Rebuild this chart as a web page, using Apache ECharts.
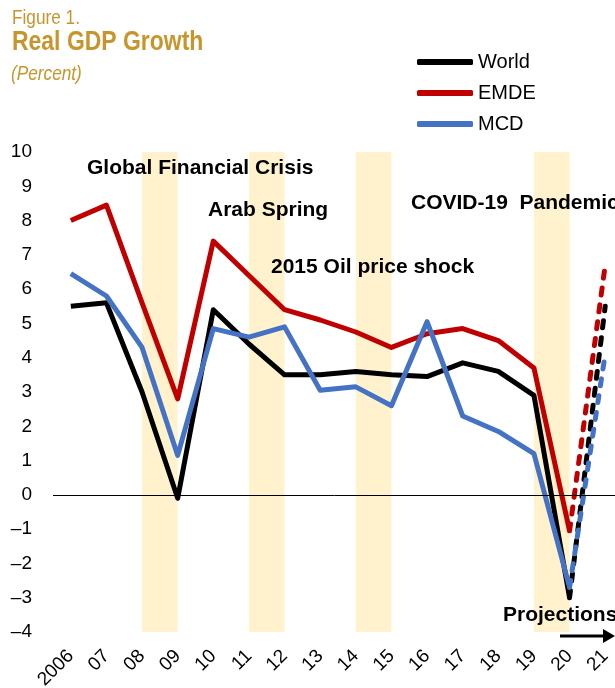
<!DOCTYPE html>
<html>
<head>
<meta charset="utf-8">
<script src="https://cdn.jsdelivr.net/npm/echarts@6/dist/echarts.min.js"></script>
<style>
    html, body { margin: 0; padding: 0; background: #fff; }
    #chart { width: 615px; height: 688px; }
</style>
</head>
<body>
<div id="chart"></div>
<script>
    // 年份 (x 轴)
    var years = ['2006', '07', '08', '09', '10', '11', '12', '13', '14', '15', '16', '17', '18', '19', '20', '21'];

    // 实际 GDP 增长 (百分比), 最后一年为预测
    var world = [5.5, 5.6, 3.0, -0.1, 5.4, 4.4, 3.5, 3.5, 3.6, 3.5, 3.45, 3.85, 3.6, 2.9, -3.0, 5.5];
    var emde = [8.0, 8.45, 5.6, 2.8, 7.4, 6.4, 5.4, 5.1, 4.75, 4.3, 4.7, 4.85, 4.5, 3.7, -1.05, 6.7];
    var mcd = [6.45, 5.8, 4.3, 1.15, 4.85, 4.6, 4.9, 3.05, 3.15, 2.6, 5.05, 2.3, 1.85, 1.2, -2.7, 4.1];

    // 阴影区 (危机年份)
    var bands = [['08', '09'], ['11', '12'], ['14', '15'], ['19', '20']];

    // y 轴刻度
    var yTicks = [-4, -3, -2, -1, 0, 1, 2, 3, 4, 5, 6, 7, 8, 9, 10];

    var projStart = years.indexOf('20');
    var gold = '#C8952C';
    var font = 'Arial, "Liberation Sans", sans-serif';

    //拆分实线 / 预测虚线
    function actual(arr) {
        return arr.map(function(v, i) {
            return i <= projStart ? v : null;
        });
    }

    function projected(arr) {
        return arr.map(function(v, i) {
            return i >= projStart ? v : null;
        });
    }

    function lineSeries(name, data, color, dashed) {
        return {
            name: name,
            type: 'line',
            data: data,
            symbol: 'none',
            z: 3,
            lineStyle: {
                color: color,
                width: 5,
                type: dashed ? [7, 10] : 'solid',
                cap: dashed ? 'round' : 'butt',
                join: 'round'
            },
            itemStyle: {
                color: color
            }
        };
    }

    function note(text, left, top) {
        return {
            type: 'text',
            left: left,
            top: top,
            z: 100,
            style: {
                text: text,
                fill: '#000',
                font: 'bold 21px ' + font
            }
        };
    }

    // 标题 (窄体字, 用 scaleX 模拟)
    function title(text, x, y, f) {
        return {
            type: 'text',
            x: x,
            y: y,
            scaleX: 0.82,
            z: 100,
            style: {
                text: text,
                fill: gold,
                font: f,
                verticalAlign: 'top'
            }
        };
    }

    var myEcharts = echarts.init(document.getElementById('chart'), null, {
        renderer: 'canvas'
    });

    var option = {
        animation: false,
        textStyle: {
            fontFamily: font
        },
        grid: {
            left: 53,
            top: 152,
            width: 570,
            height: 480,
            outerBoundsMode: 'none',
            containLabel: false
        },
        legend: {
            orient: 'vertical',
            left: 417,
            top: 52,
            padding: 0,
            itemWidth: 56,
            itemHeight: 6,
            itemGap: 11,
            icon: 'roundRect',
            data: ['World', 'EMDE', 'MCD'],
            textStyle: {
                fontSize: 20,
                lineHeight: 20,
                color: '#000',
                fontFamily: font
            }
        },
        xAxis: {
            type: 'category',
            data: years,
            boundaryGap: true,
            axisLine: {
                show: false
            },
            axisTick: {
                show: false
            },
            axisLabel: {
                rotate: 45,
                interval: 0,
                margin: 21,
                fontSize: 19,
                color: '#000',
                fontFamily: font
            }
        },
        yAxis: {
            type: 'value',
            min: yTicks[0],
            max: yTicks[yTicks.length - 1],
            interval: 1,
            splitLine: {
                show: false
            },
            axisLine: {
                show: false
            },
            axisTick: {
                show: false
            },
            axisLabel: {
                margin: 21,
                fontSize: 19,
                color: '#000',
                fontFamily: font,
                formatter: function(v) {
                    return String(v).replace('-', '\u2013');
                }
            }
        },
        series: [{
                name: 'bands',
                type: 'line',
                data: [],
                z: 1,
                markArea: {
                    silent: true,
                    itemStyle: {
                        color: '#FFF2CC'
                    },
                    data: bands.map(function(b) {
                        return [{
                            xAxis: b[0]
                        }, {
                            xAxis: b[1]
                        }];
                    })
                },
                markLine: {
                    silent: true,
                    symbol: ['none', 'none'],
                    label: {
                        show: false
                    },
                    lineStyle: {
                        color: '#000',
                        width: 1,
                        type: 'solid'
                    },
                    data: [{
                        yAxis: 0
                    }]
                }
            },
            lineSeries('EMDE', actual(emde), '#C00000', false),
            lineSeries('EMDE proj', projected(emde), '#C00000', true),
            lineSeries('World', actual(world), '#000000', false),
            lineSeries('World proj', projected(world), '#000000', true),
            lineSeries('MCD', actual(mcd), '#4472C4', false),
            lineSeries('MCD proj', projected(mcd), '#4472C4', true)
        ],
        graphic: [
            title('Figure 1.', 12, 8, '21px ' + font),
            title('Real GDP Growth', 12, 28, 'bold 28px ' + font),
            title('(Percent)', 11, 64, 'italic 21px ' + font),
            note('Global Financial Crisis', 87, 158),
            note('Arab Spring', 208, 200),
            note('2015 Oil price shock', 271, 257),
            note('COVID-19  Pandemic', 411, 193),
            note('Projections', 503, 605),
            //预测箭头
            {
                type: 'line',
                z: 100,
                shape: {
                    x1: 560,
                    y1: 636,
                    x2: 606,
                    y2: 636
                },
                style: {
                    stroke: '#000',
                    lineWidth: 3
                }
            },
            {
                type: 'polygon',
                z: 100,
                shape: {
                    points: [
                        [603, 629],
                        [615, 636],
                        [603, 643]
                    ]
                },
                style: {
                    fill: '#000'
                }
            }
        ]
    };

    myEcharts.setOption(option);
</script>
</body>
</html>
